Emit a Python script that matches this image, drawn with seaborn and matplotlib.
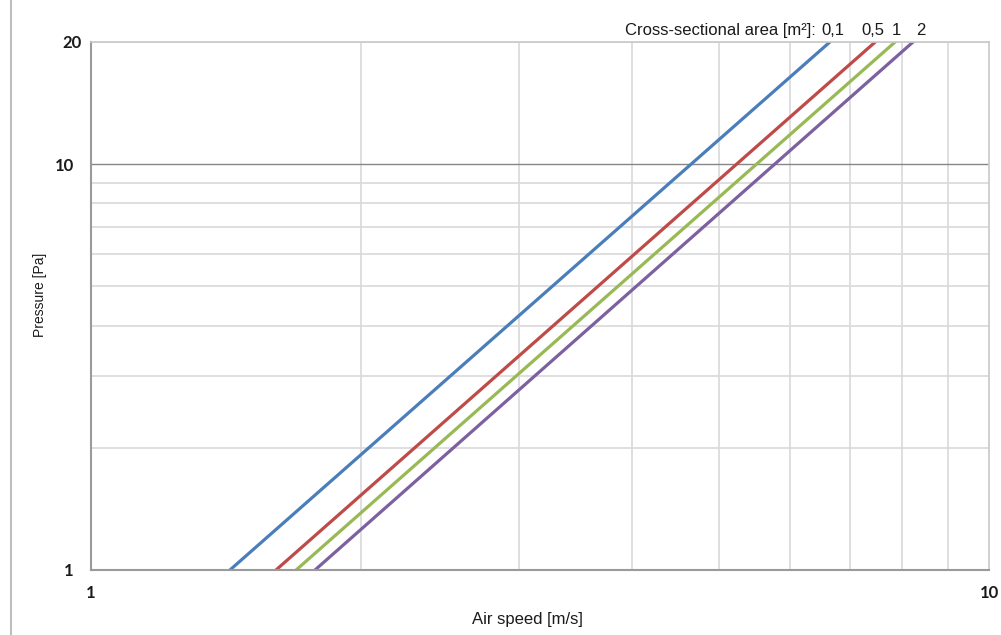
import matplotlib
matplotlib.use("Agg")
import matplotlib.pyplot as plt
import matplotlib.ticker as mticker
from matplotlib.lines import Line2D
import seaborn as sns
import pandas as pd

# ---- data ----
areas = ["0,1", "0,5", "1", "2"]                 # cross-sectional area [m²]
pressure_ends = [1, 20]                          # Pa
speed_at_p1 = [1.428, 1.607, 1.692, 1.776]       # m/s at 1 Pa
speed_at_p20 = [6.65, 7.47, 7.86, 8.23]          # m/s at 20 Pa
colors = ["#4A7EBB", "#BE4B48", "#98B954", "#7D60A0"]
y_major = [1, 10]
y_minor = [2, 3, 4, 5, 6, 7, 8, 9, 20]
x_major = [1, 10]
x_minor = [2, 3, 4, 5, 6, 7, 8, 9]

rows = []
for a, s1, s20 in zip(areas, speed_at_p1, speed_at_p20):
    rows.append({"area": a, "speed": s1, "pressure": pressure_ends[0]})
    rows.append({"area": a, "speed": s20, "pressure": pressure_ends[1]})
df = pd.DataFrame(rows)

sns.set_style("white")
plt.rcParams["font.family"] = ["Liberation Sans", "DejaVu Sans"]

fig = plt.figure(figsize=(10.01, 6.35), dpi=100)
W, H = 1001, 635
ax = fig.add_axes([91 / W, 1 - 570 / H, (989 - 91) / W, (570 - 42) / H])

sns.lineplot(data=df, x="speed", y="pressure", hue="area", palette=colors,
             hue_order=areas, linewidth=2.3, legend=False, ax=ax, sort=False)

ax.set_xscale("log")
ax.set_yscale("log")
ax.set_xlim(1, 10)
ax.set_ylim(1, 20)

ax.xaxis.set_major_locator(mticker.FixedLocator(x_major))
ax.xaxis.set_major_formatter(mticker.FixedFormatter([str(v) for v in x_major]))
ax.xaxis.set_minor_locator(mticker.FixedLocator(x_minor))
ax.xaxis.set_minor_formatter(mticker.NullFormatter())
ax.yaxis.set_major_locator(mticker.FixedLocator(y_major))
ax.yaxis.set_major_formatter(mticker.FixedFormatter([str(v) for v in y_major]))
ax.yaxis.set_minor_locator(mticker.FixedLocator(y_minor))
ax.yaxis.set_minor_formatter(mticker.FixedFormatter(
    ["" if v != 20 else "20" for v in y_minor]))

tick_font = {"family": ["Lato", "DejaVu Sans"], "weight": "bold", "size": 12}
for lab in ax.get_xticklabels() + ax.get_yticklabels() + \
        ax.get_yticklabels(minor=True):
    lab.set_fontproperties(matplotlib.font_manager.FontProperties(**tick_font))

ax.tick_params(axis="both", which="major", direction="out", length=4.5,
               width=1, color="#868686", labelcolor="#1a1a1a")
ax.tick_params(axis="x", which="major", pad=6)
ax.tick_params(axis="y", which="major", pad=8)
ax.tick_params(axis="both", which="minor", length=0, labelcolor="#1a1a1a")
ax.tick_params(axis="y", which="minor", pad=6.5)

ax.grid(True, which="minor", axis="both", color="#d9d9d9", linewidth=1.2)
ax.grid(True, which="major", axis="y", color="#868686", linewidth=1.0)
ax.grid(False, which="major", axis="x")
ax.set_axisbelow(True)

for side in ["left", "bottom"]:
    ax.spines[side].set_color("#9a9a9a")
    ax.spines[side].set_linewidth(1.5)
for side in ["top", "right"]:
    ax.spines[side].set_color("#c8c8c8")
    ax.spines[side].set_linewidth(1.2)

ax.set_xlabel("Air speed [m/s]", fontsize=12, color="#1a1a1a")
ax.set_ylabel("Pressure [Pa]", fontsize=10, color="#1a1a1a")
ax.xaxis.set_label_coords(0.486, -0.079)
ax.yaxis.set_label_coords(-0.049, 0.521)

# legend-like labels above the line ends
label_dx = [3, -2, 1, 8]
for a, s20, dx in zip(areas, speed_at_p20, label_dx):
    ax.annotate(a, xy=(s20, pressure_ends[1]), xytext=(dx * 0.72, 8.5),
                textcoords="offset points", ha="center", va="center",
                fontsize=12, color="#1a1a1a", annotation_clip=False)
fig.text(816 / W, 1 - 30 / H, "Cross-sectional area [m²]:", ha="right",
         va="center", fontsize=12, color="#1a1a1a")

# outer frame line on the left
fig.add_artist(Line2D([11 / W, 11 / W], [0, 1], transform=fig.transFigure,
                      color="#bdbdbd", linewidth=1.5))

fig.savefig("out.png", dpi=100)
